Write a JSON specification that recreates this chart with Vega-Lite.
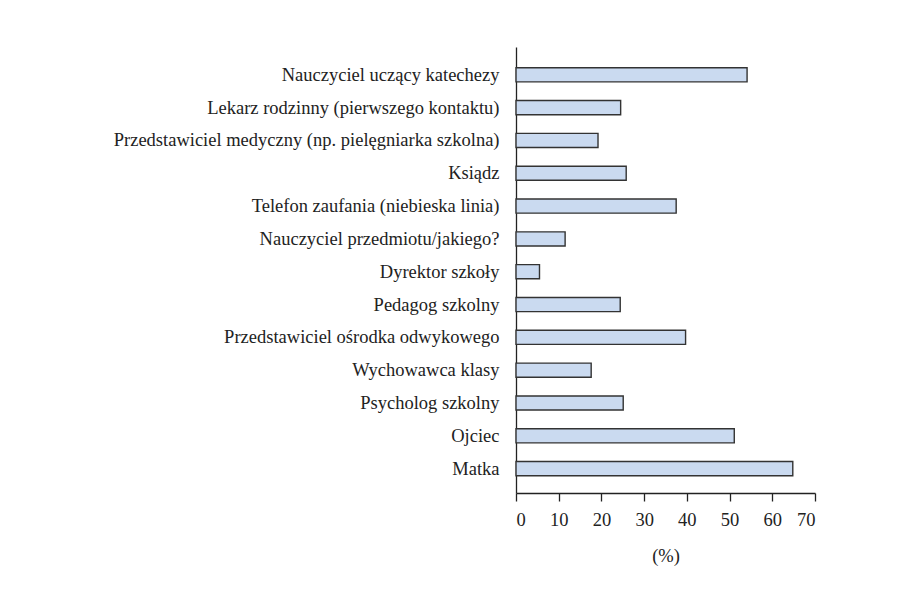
{
  "$schema": "https://vega.github.io/schema/vega-lite/v6.json",
  "autosize": {"type": "none"},
  "padding": {"left": 516, "top": 47, "right": 88, "bottom": 98},
  "width": 299,
  "height": 446,
  "background": "white",
  "data": {
    "values": [
      {"kategoria": "Nauczyciel uczący katechezy", "procent": 54.1},
      {"kategoria": "Lekarz rodzinny (pierwszego kontaktu)", "procent": 24.5},
      {"kategoria": "Przedstawiciel medyczny (np. pielęgniarka szkolna)", "procent": 19.2},
      {"kategoria": "Ksiądz", "procent": 25.8},
      {"kategoria": "Telefon zaufania (niebieska linia)", "procent": 37.5},
      {"kategoria": "Nauczyciel przedmiotu/jakiego?", "procent": 11.5},
      {"kategoria": "Dyrektor szkoły", "procent": 5.5},
      {"kategoria": "Pedagog szkolny", "procent": 24.4},
      {"kategoria": "Przedstawiciel ośrodka odwykowego", "procent": 39.7},
      {"kategoria": "Wychowawca klasy", "procent": 17.6},
      {"kategoria": "Psycholog szkolny", "procent": 25.1},
      {"kategoria": "Ojciec", "procent": 51.1},
      {"kategoria": "Matka", "procent": 64.8}
    ]
  },
  "mark": {"type": "bar", "fill": "#cadaf0", "stroke": "#333333", "strokeWidth": 1.4, "cornerRadius": 0},
  "encoding": {
    "y": {
      "field": "kategoria",
      "type": "nominal",
      "sort": null,
      "scale": {"paddingInner": 0.57, "paddingOuter": 0.58, "align": 0.545},
      "axis": {
        "title": null,
        "ticks": false,
        "labelPadding": 17,
        "labelFont": "Liberation Serif, serif",
        "labelFontSize": 18.5,
        "labelColor": "#222222",
        "labelLimit": 500,
        "domainColor": "#222222",
        "domainWidth": 1.3,
        "grid": false
      }
    },
    "x": {
      "field": "procent",
      "type": "quantitative",
      "scale": {"domain": [0, 70], "nice": false},
      "axis": {
        "title": "(%)",
        "values": [0, 10, 20, 30, 40, 50, 60, 70],
        "tickSize": 8,
        "tickColor": "#222222",
        "tickWidth": 1.3,
        "domainColor": "#222222",
        "domainWidth": 1.3,
        "grid": false,
        "labelPadding": 9,
        "labelFont": "Liberation Serif, serif",
        "labelFontSize": 18.5,
        "labelColor": "#222222",
        "titleFont": "Liberation Serif, serif",
        "titleFontSize": 18.5,
        "titleFontWeight": "normal",
        "titleColor": "#222222",
        "titlePadding": 18
      }
    }
  },
  "config": {"view": {"stroke": null}}
}
